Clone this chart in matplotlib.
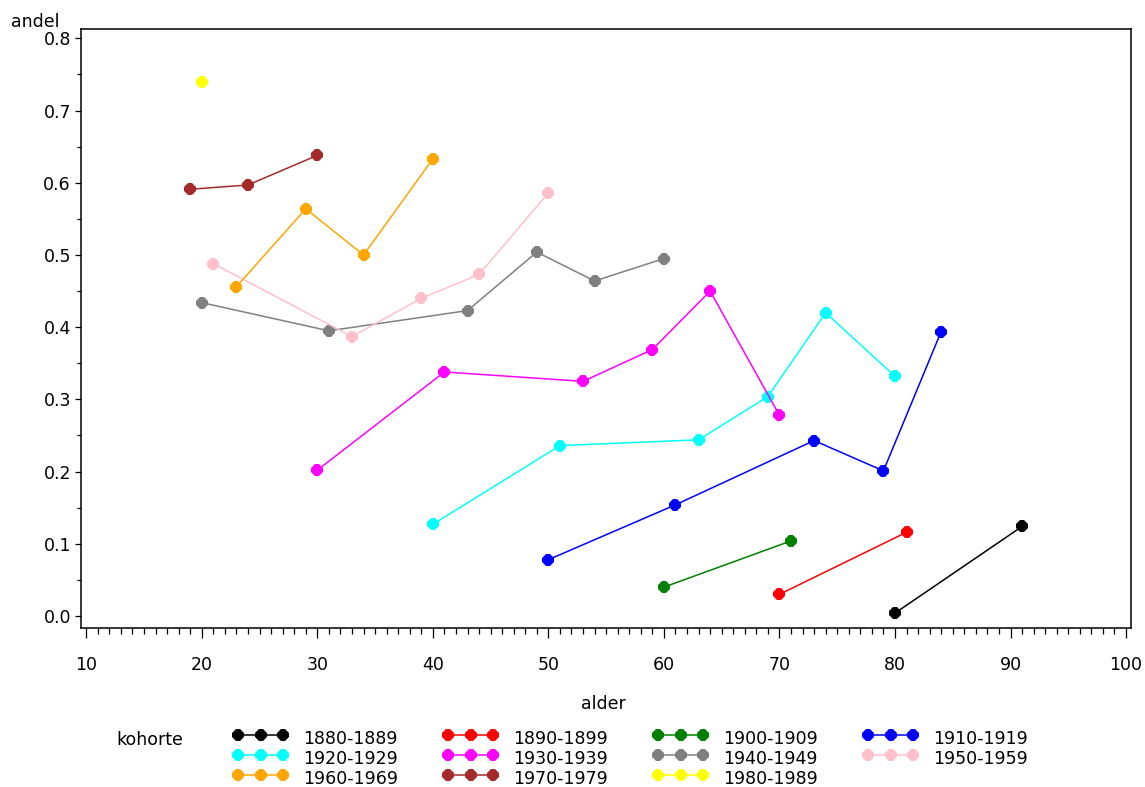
import matplotlib
matplotlib.use("Agg")
import matplotlib.pyplot as plt
from matplotlib.lines import Line2D
from matplotlib.ticker import MultipleLocator, FormatStrFormatter

plt.rcParams['font.family'] = ['DejaVu Sans']

# ---- data ----
cohorts = ['1880-1889', '1890-1899', '1900-1909', '1910-1919',
           '1920-1929', '1930-1939', '1940-1949', '1950-1959',
           '1960-1969', '1970-1979', '1980-1989']
colors = ['black', 'red', 'green', 'blue', 'cyan', 'magenta', 'gray',
          'pink', 'orange', 'brown', 'yellow']

ages_1880 = [80, 91]
andel_1880 = [0.004, 0.124]
ages_1890 = [70, 81]
andel_1890 = [0.030, 0.116]
ages_1900 = [60, 71]
andel_1900 = [0.040, 0.104]
ages_1910 = [50, 61, 73, 79, 84]
andel_1910 = [0.078, 0.154, 0.243, 0.201, 0.394]
ages_1920 = [40, 51, 63, 69, 74, 80]
andel_1920 = [0.127, 0.236, 0.244, 0.304, 0.420, 0.332]
ages_1930 = [30, 41, 53, 59, 64, 70]
andel_1930 = [0.202, 0.338, 0.325, 0.369, 0.450, 0.278]
ages_1940 = [20, 31, 43, 49, 54, 60]
andel_1940 = [0.434, 0.395, 0.423, 0.504, 0.464, 0.495]
ages_1950 = [21, 33, 39, 44, 50]
andel_1950 = [0.488, 0.387, 0.440, 0.473, 0.586]
ages_1960 = [23, 29, 34, 40]
andel_1960 = [0.456, 0.564, 0.500, 0.633]
ages_1970 = [19, 24, 30]
andel_1970 = [0.591, 0.597, 0.638]
ages_1980 = [20]
andel_1980 = [0.740]

ages = [ages_1880, ages_1890, ages_1900, ages_1910, ages_1920, ages_1930,
        ages_1940, ages_1950, ages_1960, ages_1970, ages_1980]
andels = [andel_1880, andel_1890, andel_1900, andel_1910, andel_1920,
          andel_1930, andel_1940, andel_1950, andel_1960, andel_1970,
          andel_1980]

x_ticks = list(range(10, 101, 10))
y_ticks = [0.0, 0.1, 0.2, 0.3, 0.4, 0.5, 0.6, 0.7, 0.8]

# ---- figure ----
W, H = 1145, 787
FS = 12.5
fig = plt.figure(figsize=(W / 100, H / 100), dpi=100)
left, right, top, bottom = 80.7, 1131, 28.5, 627.7
ax = fig.add_axes([left / W, 1 - bottom / H, (right - left) / W, (bottom - top) / H])

MS = 8.6
LW = 1.1
for a, v, c in zip(ages, andels, colors):
    ax.plot(a, v, color=c, linewidth=LW, marker='8', markersize=MS,
            markeredgewidth=0, solid_capstyle='butt')

ax.set_xlim(9.52, 100.43)
ax.set_ylim(-0.0162, 0.8137)
ax.set_xticks(x_ticks)
ax.set_yticks(y_ticks)
ax.yaxis.set_major_formatter(FormatStrFormatter('%.1f'))
ax.xaxis.set_minor_locator(MultipleLocator(1))
ax.yaxis.set_minor_locator(MultipleLocator(0.05))
ax.tick_params(axis='y', which='major', length=4.5, width=0.9, pad=2.5,
               labelsize=FS, direction='out')
ax.tick_params(axis='y', which='minor', length=2.9, width=0.9, direction='out')
ax.tick_params(axis='x', which='major', length=7.4, width=0.9, pad=13,
               labelsize=FS, direction='out')
ax.tick_params(axis='x', which='minor', length=4.4, width=0.9, direction='out')
for s in ax.spines.values():
    s.set_linewidth(1.1)

fig.text(11 / W, 1 - 22 / H, 'andel', fontsize=FS, ha='left', va='center')
fig.text(603 / W, 1 - 704 / H, 'alder', fontsize=FS, ha='center', va='center')

# ---- legend (manual, SAS style) ----
fig.text(116 / W, 1 - 740 / H, 'kohorte', fontsize=FS, ha='left', va='center')
col_dx = 210
row_dy = 20
for k, idx in enumerate(range(len(cohorts))):
    r, cidx = divmod(k, 4)
    y = 735 + r * row_dy
    x0 = 238 + cidx * col_dx
    xs = [x0 / W, (x0 + 22.5) / W, (x0 + 45) / W]
    ys = [1 - y / H] * 3
    fig.add_artist(Line2D(xs, ys, transform=fig.transFigure, color=colors[idx],
                          linewidth=LW, marker='8', markersize=MS,
                          markeredgewidth=0))
    fig.text((303 + cidx * col_dx) / W, 1 - (y + 4) / H, cohorts[idx],
             fontsize=FS, ha='left', va='center')

fig.savefig('out.png', dpi=100)
